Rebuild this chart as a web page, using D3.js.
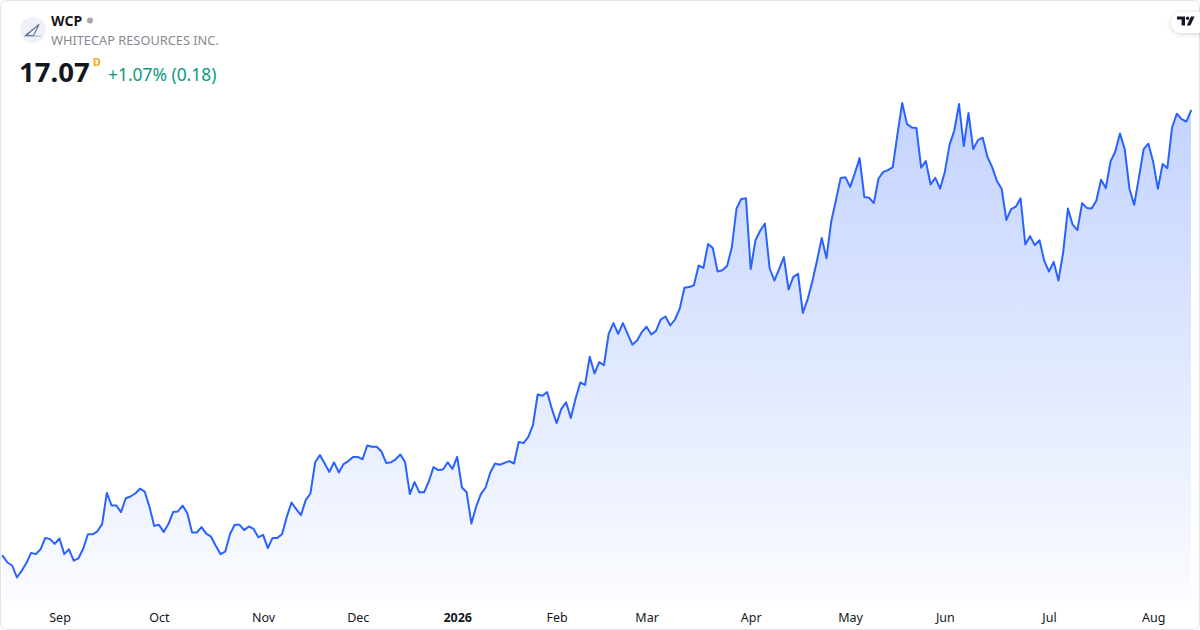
<!DOCTYPE html>
<html>
<head>
<meta charset="utf-8">
<script src="https://cdn.jsdelivr.net/npm/d3@7/dist/d3.min.js"></script>
<style>
  html, body { margin: 0; padding: 0; background: #ffffff; }
  svg { display: block; }
  text { font-family: "Noto Sans", "Open Sans", sans-serif; }
</style>
</head>
<body>
<svg id="chart" width="1200" height="630"></svg>
<script>
// ---- data (daily closes, WCP) ----
const prices = [
  9.65, 9.54, 9.49, 9.29, 9.40, 9.53, 9.70, 9.68, 9.76, 9.95,
  9.93, 9.85, 9.94, 9.68, 9.76, 9.57, 9.61, 9.77, 10.01, 10.01,
  10.06, 10.18, 10.70, 10.49, 10.49, 10.38, 10.61, 10.64, 10.69, 10.77,
  10.72, 10.47, 10.15, 10.17, 10.05, 10.18, 10.38, 10.39, 10.49, 10.36,
  10.04, 10.04, 10.13, 10.02, 9.97, 9.82, 9.68, 9.72, 10.01, 10.17,
  10.17, 10.08, 10.14, 10.10, 9.96, 10.00, 9.78, 9.95, 9.95, 10.01,
  10.30, 10.54, 10.43, 10.33, 10.58, 10.69, 11.21, 11.33, 11.19, 11.05,
  11.21, 11.04, 11.18, 11.23, 11.30, 11.30, 11.26, 11.49, 11.47, 11.47,
  11.39, 11.20, 11.21, 11.26, 11.34, 11.21, 10.68, 10.88, 10.71, 10.71,
  10.89, 11.13, 11.08, 11.09, 11.21, 11.10, 11.30, 10.79, 10.71, 10.19,
  10.47, 10.68, 10.79, 11.04, 11.19, 11.17, 11.20, 11.23, 11.19, 11.55,
  11.53, 11.63, 11.83, 12.34, 12.32, 12.38, 12.10, 11.86, 12.10, 12.21,
  11.95, 12.27, 12.54, 12.50, 12.97, 12.69, 12.88, 12.83, 13.35, 13.53,
  13.35, 13.53, 13.35, 13.17, 13.24, 13.38, 13.47, 13.34, 13.40, 13.59,
  13.64, 13.49, 13.59, 13.77, 14.12, 14.13, 14.16, 14.49, 14.45, 14.85,
  14.78, 14.39, 14.41, 14.48, 14.79, 15.44, 15.60, 15.61, 14.43, 14.91,
  15.07, 15.19, 14.44, 14.24, 14.43, 14.63, 14.09, 14.30, 14.35, 13.70,
  13.92, 14.22, 14.57, 14.95, 14.61, 15.22, 15.58, 15.95, 15.96, 15.80,
  16.03, 16.28, 15.63, 15.62, 15.53, 15.94, 16.05, 16.08, 16.13, 16.68,
  17.20, 16.85, 16.79, 16.78, 16.12, 16.23, 15.84, 15.95, 15.77, 16.05,
  16.50, 16.74, 17.18, 16.48, 17.03, 16.43, 16.58, 16.62, 16.30, 16.13,
  15.90, 15.77, 15.25, 15.43, 15.47, 15.61, 14.84, 14.98, 14.83, 14.91,
  14.57, 14.39, 14.55, 14.24, 14.71, 15.44, 15.17, 15.08, 15.53, 15.45,
  15.44, 15.57, 15.92, 15.78, 16.22, 16.39, 16.69, 16.43, 15.77, 15.50,
  15.96, 16.43, 16.52, 16.22, 15.77, 16.18, 16.11, 16.79, 17.02, 16.93,
  16.89, 17.07
];
const monthLabels = ["Sep", "Oct", "Nov", "Dec", "2026", "Feb", "Mar", "Apr", "May", "Jun", "Jul", "Aug"];
const monthIndex  = [12, 33, 55, 75, 96, 117, 136, 158, 179, 199, 221, 243];
const boldLabels  = ["2026"];

const symbol = "WCP";
const company = "WHITECAP RESOURCES INC.";
const lastPrice = "17.07";
const change = "+1.07% (0.18)";

// ---- drawing ----
const W = 1200, H = 630;
const svg = d3.select("#chart");
const defs = svg.append("defs");

const x = d3.scaleLinear().domain([0, prices.length - 1]).range([2.7, 1191]);
const y = d3.scaleLinear().domain([9, 18]).range([594.9, 54.9]);
const baseY = 601;

const grad = defs.append("linearGradient")
  .attr("id", "areaGrad")
  .attr("gradientUnits", "userSpaceOnUse")
  .attr("x1", 0).attr("x2", 0)
  .attr("y1", y(d3.max(prices))).attr("y2", baseY);
grad.append("stop").attr("offset", 0).attr("stop-color", "#2962ff").attr("stop-opacity", 0.28);
grad.append("stop").attr("offset", 1).attr("stop-color", "#2962ff").attr("stop-opacity", 0.02);

const shadow = defs.append("filter").attr("id", "pillShadow")
  .attr("x", "-50%").attr("y", "-50%").attr("width", "200%").attr("height", "200%");
shadow.append("feDropShadow").attr("dx", 0).attr("dy", 1).attr("stdDeviation", 2.5)
  .attr("flood-color", "#000").attr("flood-opacity", 0.18);

// background + frame
svg.append("rect").attr("x", 0.5).attr("y", 0.5).attr("width", W - 1).attr("height", H - 1)
  .attr("rx", 6).attr("fill", "#ffffff").attr("stroke", "#e0e3eb");

// area
const area = d3.area()
  .x((d, i) => x(i))
  .y0(baseY)
  .y1(d => y(d));
svg.append("path").datum(prices)
  .attr("d", area)
  .attr("fill", "url(#areaGrad)");

// line
const line = d3.line()
  .x((d, i) => x(i))
  .y(d => y(d));
svg.append("path").datum(prices)
  .attr("d", line)
  .attr("fill", "none")
  .attr("stroke", "#2962ff")
  .attr("stroke-width", 2)
  .attr("stroke-linejoin", "round")
  .attr("stroke-linecap", "round");

// x axis labels
const axis = d3.axisBottom(x)
  .tickValues(monthIndex)
  .tickFormat((d, i) => monthLabels[i])
  .tickSize(0)
  .tickPadding(0);
const gAxis = svg.append("g").attr("transform", `translate(0, ${613})`).call(axis);
gAxis.select(".domain").remove();
gAxis.selectAll("text")
  .attr("fill", "#131722")
  .attr("font-size", 12.5)
  .attr("font-family", "'Noto Sans', 'Open Sans', sans-serif")
  .attr("font-weight", (d, i) => boldLabels.includes(monthLabels[i]) ? 700 : 400);

// header: logo
svg.append("circle").attr("cx", 33).attr("cy", 30).attr("r", 13).attr("fill", "#eef1f8");
svg.append("path")
  .attr("d", "M25.5,35.5 L39,24.5 L33.5,35.5 Z M27,35.5 Q31,30 38,25.5")
  .attr("fill", "none").attr("stroke", "#5b6f9c").attr("stroke-width", 1.1)
  .attr("stroke-linejoin", "round");
svg.append("line").attr("x1", 24).attr("x2", 41).attr("y1", 36.2).attr("y2", 36.2)
  .attr("stroke", "#8b9bbd").attr("stroke-width", 0.8);

svg.append("text").attr("x", 51).attr("y", 26).text(symbol)
  .attr("font-size", 14).attr("font-weight", 700).attr("fill", "#131722");
svg.append("circle").attr("cx", 90).attr("cy", 20.5).attr("r", 3).attr("fill", "#a3a6af");
svg.append("text").attr("x", 51).attr("y", 45).text(company)
  .attr("font-size", 12.8).attr("fill", "#868993");

svg.append("text").attr("x", 19).attr("y", 82).text(lastPrice)
  .attr("font-size", 27.5).attr("font-weight", 700).attr("fill", "#131722");
svg.append("text").attr("x", 93).attr("y", 66).text("D")
  .attr("font-size", 10.5).attr("font-weight", 700).attr("fill", "#f7a600");
svg.append("text").attr("x", 108).attr("y", 80.5).text(change)
  .attr("font-size", 17.4).attr("fill", "#089981");

// top-right TradingView pill
svg.append("rect").attr("x", 1171).attr("y", 12).attr("width", 44).attr("height", 21).attr("rx", 10.5)
  .attr("fill", "#ffffff").attr("filter", "url(#pillShadow)");
const tv = svg.append("g").attr("fill", "#131722");
tv.append("path").attr("d", "M1177,16.5 H1185 V25.5 H1181.6 V19.6 H1177 Z");
tv.append("circle").attr("cx", 1187.6).attr("cy", 18.2).attr("r", 1.7);
tv.append("path").attr("d", "M1191,16.5 H1194.6 L1190.4,25.5 H1186.8 Z");
</script>
</body>
</html>
